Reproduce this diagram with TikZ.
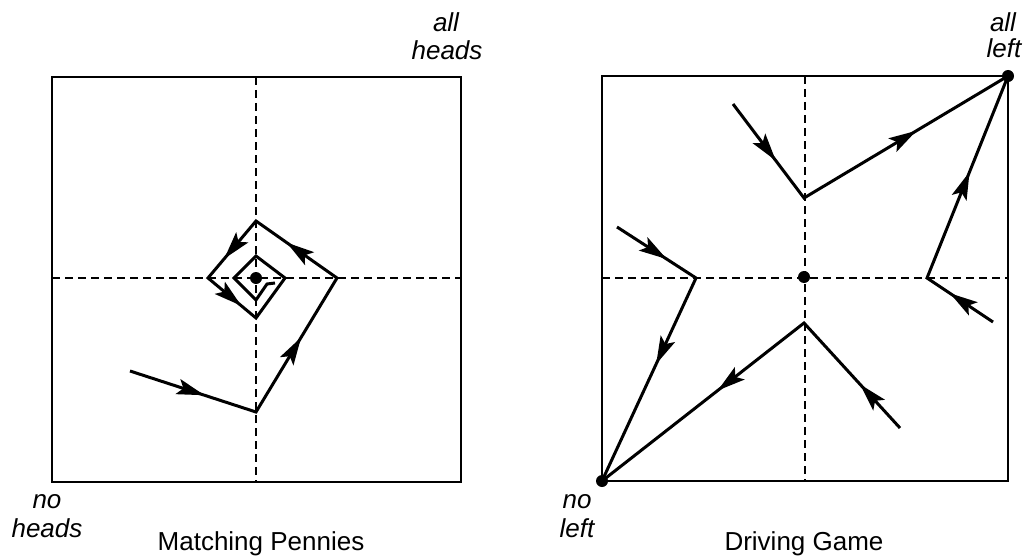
\documentclass[tikz,border=0pt]{standalone}
\usepackage{fontspec}
\setmainfont{Liberation Sans}
\usetikzlibrary{decorations.markings}
\tikzset{
  box/.style={line width=0.8pt},
  guide/.style={line width=0.6pt, dash pattern=on 4pt off 2.5pt},
  traj/.style={line width=1.5pt, line join=miter},
  midarrow/.style={postaction={decorate}, decoration={markings, mark=at position #1 with {\fill (-8pt,-4pt) -- (6pt,0pt) -- (-8pt,4pt) -- (-5pt,0pt) -- cycle;}}},
  lab/.style={font=\fontsize{13}{15}\selectfont\itshape, anchor=base, inner sep=0pt},
  ttl/.style={font=\fontsize{13}{15}\selectfont, anchor=base, inner sep=0pt},
  dotn/.style={circle, fill, inner sep=0pt, minimum size=6pt},
}
\begin{document}
\begin{tikzpicture}[x=0.5pt,y=-0.5pt]
\useasboundingbox (0,0) rectangle (1026,556);
% ---------- Matching Pennies ----------
\draw[box] (52,77) rectangle (461,482);
\coordinate (LT) at (256,77); \coordinate (LB) at (256,482);
\coordinate (LL) at (52,278); \coordinate (LR) at (461,278);
\draw[guide] (LT) -- (LB);
\draw[guide] (LL) -- (LR);
\coordinate (p1) at (130,371);
\coordinate (p2) at (256,412);
\coordinate (p3) at (337,278);
\coordinate (p4) at (256,221);
\coordinate (p5) at (208,278);
\coordinate (p6) at (256,318);
\coordinate (p7) at (285,278);
\coordinate (p8) at (256,256);
\coordinate (p9) at (234,278);
\coordinate (p10) at (256,300);
\coordinate (p11) at (267,284);
\coordinate (p12) at (275,283);
\draw[traj] (p1) -- (p2) -- (p3) -- (p4) -- (p5) -- (p6) -- (p7) -- (p8) -- (p9) -- (p10) -- (p11) -- (p12);
\path[midarrow=0.5] (p1) -- (p2);
\path[midarrow=0.48] (p2) -- (p3);
\path[midarrow=0.5] (p3) -- (p4);
\path[midarrow=0.5] (p4) -- (p5);
\path[midarrow=0.5] (p5) -- (p6);
\node[dotn] (eqL) at (256,278) {};
\node[lab] (allh1) at (446,32) {all};
\node[lab] (allh2) at (447,60) {heads};
\node[lab] (noh1) at (47,508) {no};
\node[lab] (noh2) at (47,537) {heads};
\node[ttl] (mp) at (261,550) {Matching Pennies};
% ---------- Driving Game ----------
\draw[box] (602,76) rectangle (1008,481);
\coordinate (RT) at (805,76); \coordinate (RB) at (805,481);
\coordinate (RL) at (602,278); \coordinate (RR) at (1008,278);
\draw[guide] (RT) -- (RB);
\draw[guide] (RL) -- (RR);
\node[dotn] (Q) at (1008,76) {};
\node[dotn] (N) at (602,481) {};
\node[dotn] (eqR) at (804,277) {};
\coordinate (a1) at (733,104);
\coordinate (a2) at (804,198);
\coordinate (b1) at (993,322);
\coordinate (b2) at (927,278);
\coordinate (c1) at (617,227);
\coordinate (c2) at (696,278);
\coordinate (d1) at (900,428);
\coordinate (d2) at (804,323);
\draw[traj] (a1) -- (a2) -- (Q.center);
\draw[traj] (b1) -- (b2) -- (Q.center);
\draw[traj] (c1) -- (c2) -- (N.center);
\draw[traj] (d1) -- (d2) -- (N.center);
\path[midarrow=0.5] (a1) -- (a2);
\path[midarrow=0.5] (a2) -- (Q.center);
\path[midarrow=0.5] (b1) -- (b2);
\path[midarrow=0.47] (b2) -- (Q.center);
\path[midarrow=0.5] (c1) -- (c2);
\path[midarrow=0.37] (c2) -- (N.center);
\path[midarrow=0.33] (d1) -- (d2);
\path[midarrow=0.38] (d2) -- (N.center);
\node[lab] (alll1) at (1003,32) {all};
\node[lab] (alll2) at (1004,58) {left};
\node[lab] (nol1) at (577,508) {no};
\node[lab] (nol2) at (577,537) {left};
\node[ttl] (dg) at (804,550) {Driving Game};
\end{tikzpicture}
\end{document}
